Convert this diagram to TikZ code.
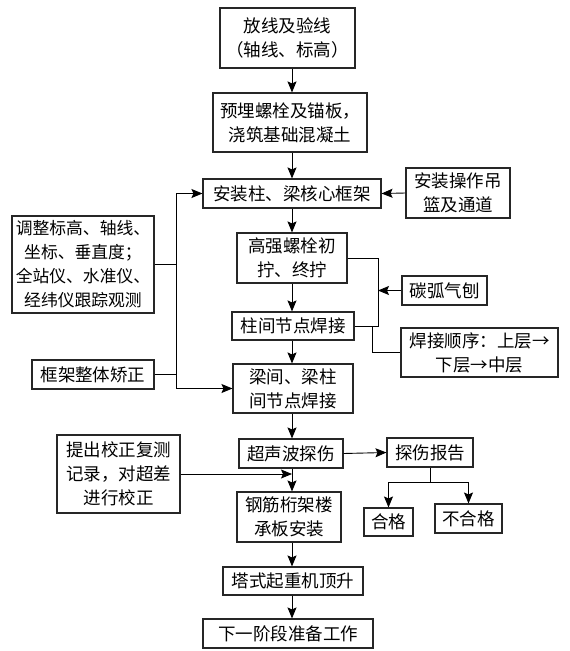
\documentclass[tikz,border=0pt]{standalone}
\usepackage{fontspec}
\setmainfont{Noto Sans CJK SC}
\usetikzlibrary{arrows.meta,calc}
\begin{document}
\begin{tikzpicture}[x=1pt,y=-1pt,
  box/.style={draw=black!85,line width=1.1pt,inner sep=0pt,align=center,
    font=\fontsize{17.5pt}{24pt}\selectfont},
  arr/.style={line width=0.9pt,-{Stealth[length=11pt,width=9pt,inset=2pt]}},
  ln/.style={line width=0.9pt}]
\useasboundingbox (0,0) rectangle (570,651);
\coordinate (mx) at (292,0);
\node[box,minimum width=135pt,minimum height=60pt] (n1) at (287.5,38) {放线及验线\\（轴线、标高）};
\node[box,minimum width=154pt,minimum height=59pt] (n2) at (290,122.5) {预埋螺栓及锚板，\\浇筑基础混凝土};
\node[box,minimum width=178pt,minimum height=29pt] (n3) at (292,193.5) {安装柱、梁核心框架};
\node[box,minimum width=104pt,minimum height=50pt] (n4) at (458,193) {安装操作吊\\篮及通道};
\node[box,minimum width=110pt,minimum height=50pt] (n5) at (292,258) {高强螺栓初\\拧、终拧};
\node[box,minimum width=122pt,minimum height=28pt] (n6) at (293,326) {柱间节点焊接};
\node[box,minimum width=85pt,minimum height=29pt] (n7) at (444.5,290.5) {碳弧气刨};
\node[box,minimum width=157pt,minimum height=49pt] (n8) at (479.5,352.5) {焊接顺序：上层→\\下层→中层};
\node[box,minimum width=120pt,minimum height=49pt] (n9) at (293,388.5) {梁间、梁柱\\间节点焊接};
\node[box,minimum width=104pt,minimum height=29pt] (n10) at (291,453.5) {超声波探伤};
\node[box,minimum width=86pt,minimum height=29pt] (n11) at (430,452.5) {探伤报告};
\node[box,minimum width=49pt,minimum height=28pt] (n12) at (388.5,522) {合格};
\node[box,minimum width=67pt,minimum height=29pt] (n13) at (468.5,518.5) {不合格};
\node[box,minimum width=104pt,minimum height=50pt] (n14) at (289,517) {钢筋桁架楼\\承板安装};
\node[box,minimum width=140pt,minimum height=28pt] (n15) at (293,581) {塔式起重机顶升};
\node[box,minimum width=170pt,minimum height=29pt] (n16) at (288,633.5) {下一阶段准备工作};
\node[box,minimum width=142pt,minimum height=97pt,font=\fontsize{16.8pt}{24pt}\selectfont] (l1) at (83,264.5) {调整标高、轴线、\\坐标、垂直度；\\全站仪、水准仪、\\经纬仪跟踪观测};
\node[box,minimum width=122pt,minimum height=29pt] (l2) at (93,374.5) {框架整体矫正};
\node[box,minimum width=123pt,minimum height=78pt] (l3) at (118.5,474) {提出校正复测\\记录，对超差\\进行校正};
% main column
\draw[arr] (n1.south -| mx) -- (n2.north -| mx);
\draw[arr] (n2.south -| mx) -- (n3.north -| mx);
\draw[arr] (n3.south -| mx) -- (n5.north -| mx);
\draw[arr] (n5.south -| mx) -- (n6.north -| mx);
\draw[arr] (n6.south -| mx) -- (n9.north -| mx);
\draw[arr] (n9.south -| mx) -- (n10.north -| mx);
\draw[arr] (n10.south -| mx) -- (n14.north -| mx);
\draw[arr] (n14.south -| mx) -- (n15.north -| mx);
\draw[arr] (n15.south -| mx) -- (n16.north -| mx);
% right side
\draw[arr] (n4.west) -- (n3.east);
\coordinate (bx) at (378,0);
\draw[ln] (n5.east) -- (n5.east -| bx) -- (n6.east -| bx) -- (n6.east);
\draw[arr] (n7.west) -- (n7.west -| bx);
\coordinate (wx) at (372,0);
\draw[ln] (n6.east -| wx) -- (n8.west -| wx) -- (n8.west);
\draw[arr] (n10.east) -- (n11.west);
\coordinate (by) at (0,482);
\draw[ln] (n11.south) -- (n11.south |- by);
\draw[ln] (n12.north |- by) -- (n13.north |- by);
\draw[arr] (n12.north |- by) -- (n12.north);
\draw[arr] (n13.north |- by) -- (n13.north);
% left side
\coordinate (lx) at (176,0);
\draw[ln] (n3.west -| lx) -- (n9.west -| lx);
\draw[arr] (n3.west -| lx) -- (n3.west);
\draw[arr] (n9.west -| lx) -- (n9.west);
\draw[ln] (l1.east) -- (l1.east -| lx);
\draw[ln] (l2.east) -- (l2.east -| lx);
\draw[arr] (l3.east) -- (l3.east -| mx);
\end{tikzpicture}
\end{document}
